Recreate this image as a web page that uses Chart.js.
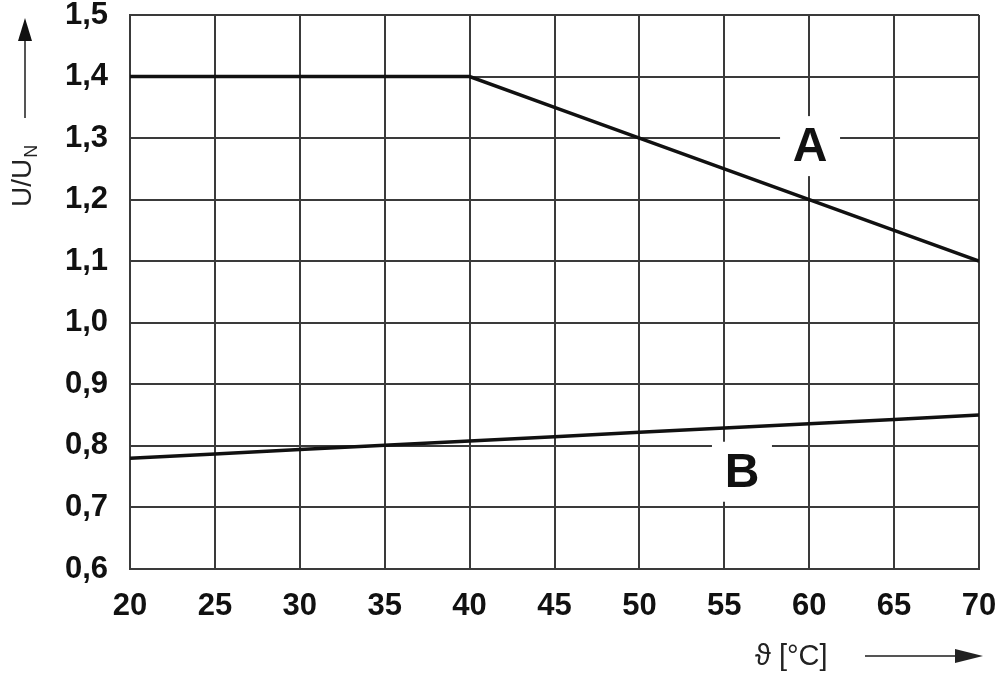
<!DOCTYPE html>
<html>
<head>
<meta charset="utf-8">
<script src="https://cdn.jsdelivr.net/npm/chart.js@4/dist/chart.umd.min.js"></script>
<style>
  html, body { margin: 0; padding: 0; background: #fff; }
  #wrap { width: 1000px; height: 676px; }
</style>
</head>
<body>
<div id="wrap"><canvas id="grafico"></canvas></div>
<script>
// dados
var temperaturas = [20, 25, 30, 35, 40, 45, 50, 55, 60, 65, 70];
var curvaA = [1.4, 1.4, 1.4, 1.4, 1.4, 1.35, 1.3, 1.25, 1.2, 1.15, 1.1];
var curvaB = [0.78, 0.787, 0.794, 0.801, 0.808, 0.815, 0.822, 0.829, 0.836, 0.843, 0.85];
var ticksY = [0.6, 0.7, 0.8, 0.9, 1.0, 1.1, 1.2, 1.3, 1.4, 1.5];
var rotulos = [
    { texto: 'A', x: 60.05, y: 1.287 },
    { texto: 'B', x: 56.04, y: 0.758 }
];

function pontos(valores) {
    return temperaturas.map(function (t, i) { return { x: t, y: valores[i] }; });
}

// desenha títulos dos eixos, setas e rótulos A/B
var extras = {
    id: 'extras',
    afterDatasetsDraw: function (chart) {
        var ctx = chart.ctx;
        var sx = chart.scales.x, sy = chart.scales.y;
        ctx.save();

        // caixas brancas e letras A / B
        ctx.font = 'bold 48px "Liberation Sans", Arial, sans-serif';
        ctx.textAlign = 'center';
        ctx.textBaseline = 'middle';
        rotulos.forEach(function (r) {
            var px = sx.getPixelForValue(r.x), py = sy.getPixelForValue(r.y);
            ctx.fillStyle = '#fff';
            ctx.fillRect(px - 30, py - 30, 60, 60);
            ctx.fillStyle = '#111';
            ctx.fillText(r.texto, px, py + 2);
        });

        // título do eixo Y: U/U_N com seta
        ctx.translate(31, 207);
        ctx.rotate(-Math.PI / 2);
        ctx.fillStyle = '#222';
        ctx.textAlign = 'left';
        ctx.textBaseline = 'alphabetic';
        ctx.font = '28px "Liberation Sans", Arial, sans-serif';
        ctx.fillText('U/U', 0, 0);
        var w = ctx.measureText('U/U').width;
        ctx.font = '18px "Liberation Sans", Arial, sans-serif';
        ctx.fillText('N', w + 1, 6);
        ctx.restore();

        ctx.save();
        ctx.strokeStyle = '#555';
        ctx.fillStyle = '#111';
        ctx.lineWidth = 2;
        ctx.beginPath();
        ctx.moveTo(25, 118);
        ctx.lineTo(25, 40);
        ctx.stroke();
        ctx.beginPath();
        ctx.moveTo(25, 18);
        ctx.lineTo(18, 41);
        ctx.lineTo(32, 41);
        ctx.closePath();
        ctx.fill();

        // título do eixo X: ϑ [°C] com seta
        ctx.font = '29px "Liberation Sans", Arial, sans-serif';
        ctx.textAlign = 'left';
        ctx.textBaseline = 'middle';
        ctx.fillStyle = '#222';
        ctx.fillText('\u03D1 [°C]', 755, 657);
        ctx.beginPath();
        ctx.moveTo(865, 656);
        ctx.lineTo(958, 656);
        ctx.stroke();
        ctx.beginPath();
        ctx.moveTo(983, 656);
        ctx.lineTo(955, 649);
        ctx.lineTo(955, 663);
        ctx.closePath();
        ctx.fill();
        ctx.restore();
    }
};

function inicializarGrafico() {
    new Chart(document.getElementById('grafico').getContext('2d'), {
        type: 'line',
        data: {
            datasets: [
                { label: 'A', data: pontos(curvaA), borderColor: '#111', borderWidth: 3.5, pointRadius: 0, tension: 0 },
                { label: 'B', data: pontos(curvaB), borderColor: '#111', borderWidth: 3.5, pointRadius: 0, tension: 0 }
            ]
        },
        options: {
            responsive: true,
            maintainAspectRatio: false,
            animation: false,
            layout: { padding: { left: 0, right: 21, top: 15, bottom: 0 } },
            plugins: {
                legend: { display: false },
                tooltip: { enabled: false }
            },
            scales: {
                x: {
                    type: 'linear',
                    min: 20,
                    max: 70,
                    afterBuildTicks: function (axis) {
                        axis.ticks = temperaturas.map(function (v) { return { value: v }; });
                    },
                    afterFit: function (axis) {
                        axis.height = 107;
                        axis.paddingLeft = 0;
                        axis.paddingRight = 0;
                    },
                    grid: { color: '#3a3a3a', lineWidth: 2, drawTicks: false },
                    border: { color: '#3a3a3a', width: 2 },
                    ticks: {
                        color: '#111',
                        padding: 19,
                        maxRotation: 0,
                        font: { family: '"Liberation Sans", Arial, sans-serif', size: 31, weight: 'bold' }
                    }
                },
                y: {
                    min: 0.6,
                    max: 1.5,
                    afterBuildTicks: function (axis) {
                        axis.ticks = ticksY.map(function (v) { return { value: v }; });
                    },
                    afterFit: function (axis) {
                        axis.width = 130;
                        axis.paddingTop = 0;
                        axis.paddingBottom = 0;
                    },
                    grid: { color: '#3a3a3a', lineWidth: 2, drawTicks: false },
                    border: { color: '#3a3a3a', width: 2 },
                    ticks: {
                        color: '#111',
                        padding: 22,
                        font: { family: '"Liberation Sans", Arial, sans-serif', size: 31, weight: 'bold' },
                        callback: function (v) { return v.toFixed(1).replace('.', ','); }
                    }
                }
            }
        },
        plugins: [extras]
    });
}

window.onload = inicializarGrafico;
</script>
</body>
</html>
